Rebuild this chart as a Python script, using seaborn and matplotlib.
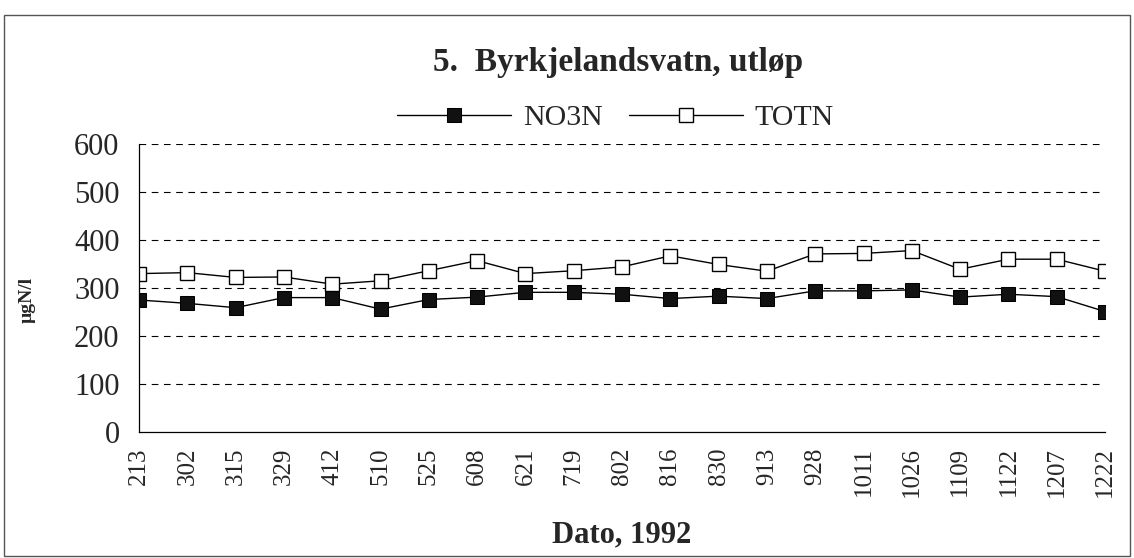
import numpy as np
import pandas as pd
import matplotlib
matplotlib.use("Agg")
import matplotlib.pyplot as plt
import seaborn as sns
from matplotlib.patches import Rectangle

# prøvedatoer (mmdd) 1992
datoer = ['213', '302', '315', '329', '412', '510', '525', '608', '621', '719', '802',
          '816', '830', '913', '928', '1011', '1026', '1109', '1122', '1207', '1222']
no3n = [275, 268, 259, 280, 280, 256, 276, 281, 291, 291, 287,
        278, 283, 278, 294, 294, 296, 281, 287, 282, 251]
totn = [330, 332, 322, 323, 308, 315, 336, 357, 330, 336, 344,
        367, 349, 335, 371, 372, 378, 339, 360, 360, 335]
yticks = [0, 100, 200, 300, 400, 500, 600]

sns.set_theme(style="white")
plt.rcParams['font.family'] = ['Liberation Serif', 'DejaVu Serif']

df = pd.DataFrame({'pos': np.arange(len(datoer)), 'NO3N': no3n, 'TOTN': totn})

fig = plt.figure(figsize=(11.34, 5.58), dpi=100)
ax = fig.add_axes([139 / 1134, 1 - 432 / 558, (1105 - 139) / 1134, (432 - 144) / 558])

sns.lineplot(data=df, x='pos', y='NO3N', ax=ax, color='black', linewidth=1,
             marker='s', markersize=10, markerfacecolor='#111111', markeredgecolor='black',
             label='NO3N')
sns.lineplot(data=df, x='pos', y='TOTN', ax=ax, color='black', linewidth=1,
             marker='s', markersize=10, markerfacecolor='white', markeredgecolor='black',
             markeredgewidth=1, label='TOTN')

ax.set_xlim(0, len(datoer) - 1)
ax.set_ylim(0, 600)
ax.set_xticks(df['pos'])
ax.set_xticklabels(datoer, rotation=90, fontsize=18)
ax.set_yticks(yticks)
ax.set_yticklabels([str(v) for v in yticks], fontsize=22)
ax.tick_params(axis='both', direction='inout', length=6, width=0.8, color='black')
ax.tick_params(axis='y', pad=11)
ax.tick_params(axis='x', pad=8)
ax.set_xlabel('')
ax.set_ylabel('')

for v in yticks[1:]:
    ax.axhline(v, color='black', linestyle=(0, (6, 5)), linewidth=0.8, zorder=0)

for side in ['top', 'right']:
    ax.spines[side].set_visible(False)
for side in ['left', 'bottom']:
    ax.spines[side].set_color('black')
    ax.spines[side].set_linewidth(0.9)

leg = ax.legend(loc='center', bbox_to_anchor=(0.543, 1 - 118 / 558), bbox_transform=fig.transFigure,
                ncol=2, frameon=False, fontsize=21.5, handlelength=3.8, columnspacing=0.9,
                handletextpad=0.4)

fig.text(0.545, 1 - 62 / 558, '5.  Byrkjelandsvatn, utløp', ha='center', va='center',
         fontsize=24, fontweight='bold')
fig.text(0.548, 1 - 535 / 558, 'Dato, 1992', ha='center', va='center',
         fontsize=22, fontweight='bold')
fig.text(27 / 1134, 1 - 300 / 558, 'µgN/l', ha='center', va='center', rotation=90,
         fontsize=14, fontweight='bold')

# ramme rundt figuren
fig.patches.append(Rectangle((4 / 1134, 2 / 558), 1126 / 1134, 541 / 558, transform=fig.transFigure,
                             fill=False, edgecolor='#555555', linewidth=1))

fig.savefig('out.png', dpi=100)
